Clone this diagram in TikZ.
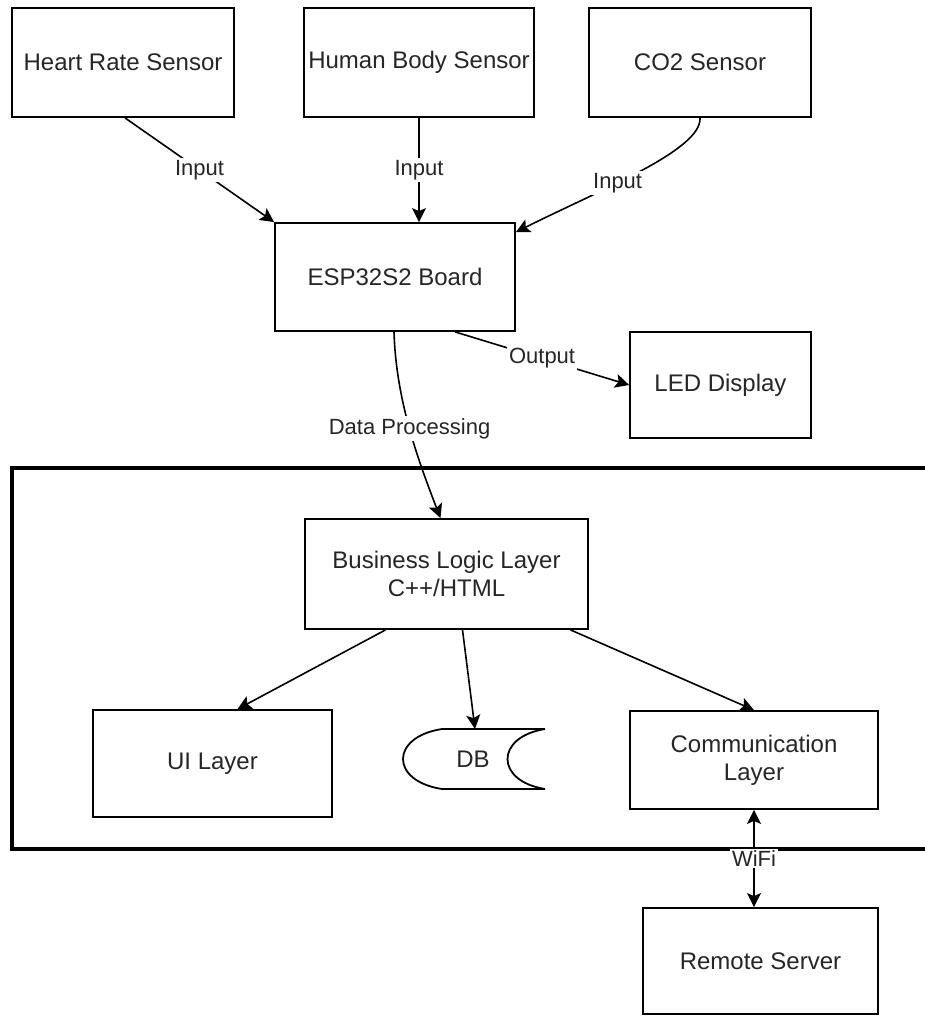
\documentclass[tikz,border=0pt]{standalone}
\usepackage{fontspec}
\setmainfont{Liberation Sans}
\usetikzlibrary{arrows.meta}
\begin{document}
\begin{tikzpicture}[x=1pt,y=-1pt,
  box/.style={draw, line width=1.8pt, rectangle, inner sep=0pt, align=center,
    font=\fontsize{24}{28}\selectfont, text=black!85},
  conn/.style={line width=1.6pt, -{Stealth[length=14pt,width=14pt,inset=3pt]}},
  lbl/.style={fill=white, inner sep=2pt, font=\fontsize{22}{26}\selectfont, text=black!85}]
\useasboundingbox (0,0) rectangle (924,1016);
\fill[white] (0,0) rectangle (924,1016);

% application container (runs past the right margin)
\draw[line width=4pt] (940,468) -- (12,468) -- (12,849) -- (940,849);

% sensors
\node[box, minimum width=222pt, minimum height=109pt] (hr) at (123,62.5) {Heart Rate Sensor};
\node[box, minimum width=230pt, minimum height=109pt] (hb) at (419,62.5) {Human Body Sensor};
\node[box, minimum width=222pt, minimum height=109pt] (co2) at (700,62.5) {CO2 Sensor};

% board and display
\node[box, minimum width=240pt, minimum height=108pt] (esp) at (395,277) {ESP32S2 Board};
\node[box, minimum width=181pt, minimum height=106pt] (led) at (720.5,385) {LED Display};

% software layers
\node[box, minimum width=283pt, minimum height=110pt] (bl) at (446.5,574) {Business Logic Layer\\C++/HTML};
\node[box, minimum width=239pt, minimum height=107pt] (ui) at (212.5,763.5) {UI Layer};
\node[box, minimum width=248pt, minimum height=98pt] (comm) at (754,760) {Communication\\Layer};

% database (stored-data shape)
\draw[line width=1.8pt, fill=white] (442,729) -- (545,729)
  .. controls (495,737) and (495,781) .. (545,789) -- (442,789)
  .. controls (390,781) and (390,737) .. (442,729);
\node[font=\fontsize{24}{28}\selectfont, text=black!85] (db) at (473,759) {DB};
\coordinate (dbtop) at (475,729);

% remote server
\node[box, minimum width=235pt, minimum height=106pt] (rs) at (760.5,961) {Remote Server};

% sensor inputs
\draw[conn] ([xshift=2pt]hr.south) -- node[lbl, pos=0.5] {Input} (esp.north west);
\draw[conn] (hb.south) -- node[lbl] {Input} (hb.south |- esp.north);
\draw[conn] (co2.south) .. controls (702,150) and (600,190) ..
  node[lbl, pos=0.6] {Input} ([yshift=-10pt]esp.north east);

% board outputs
\draw[conn] ([xshift=60pt]esp.south) -- node[lbl, pos=0.5] {Output} (led.west);
\draw[conn] ([xshift=-1pt]esp.south) .. controls (396,400) and (418,460) ..
  node[lbl, pos=0.5] {Data Processing} ([xshift=-6pt]bl.north);

% business logic fan-out
\draw[conn] ([xshift=-61pt]bl.south) -- ([xshift=25pt]ui.north);
\draw[conn] ([xshift=16pt]bl.south) -- (dbtop);
\draw[conn] ([xshift=124pt]bl.south) -- (comm.north);

% wireless link
\draw[line width=1.6pt, {Stealth[length=14pt,width=14pt,inset=3pt]}-{Stealth[length=14pt,width=14pt,inset=3pt]}]
  (comm.south) -- node[lbl, pos=0.5] {WiFi} (comm.south |- rs.north);
\end{tikzpicture}
\end{document}
